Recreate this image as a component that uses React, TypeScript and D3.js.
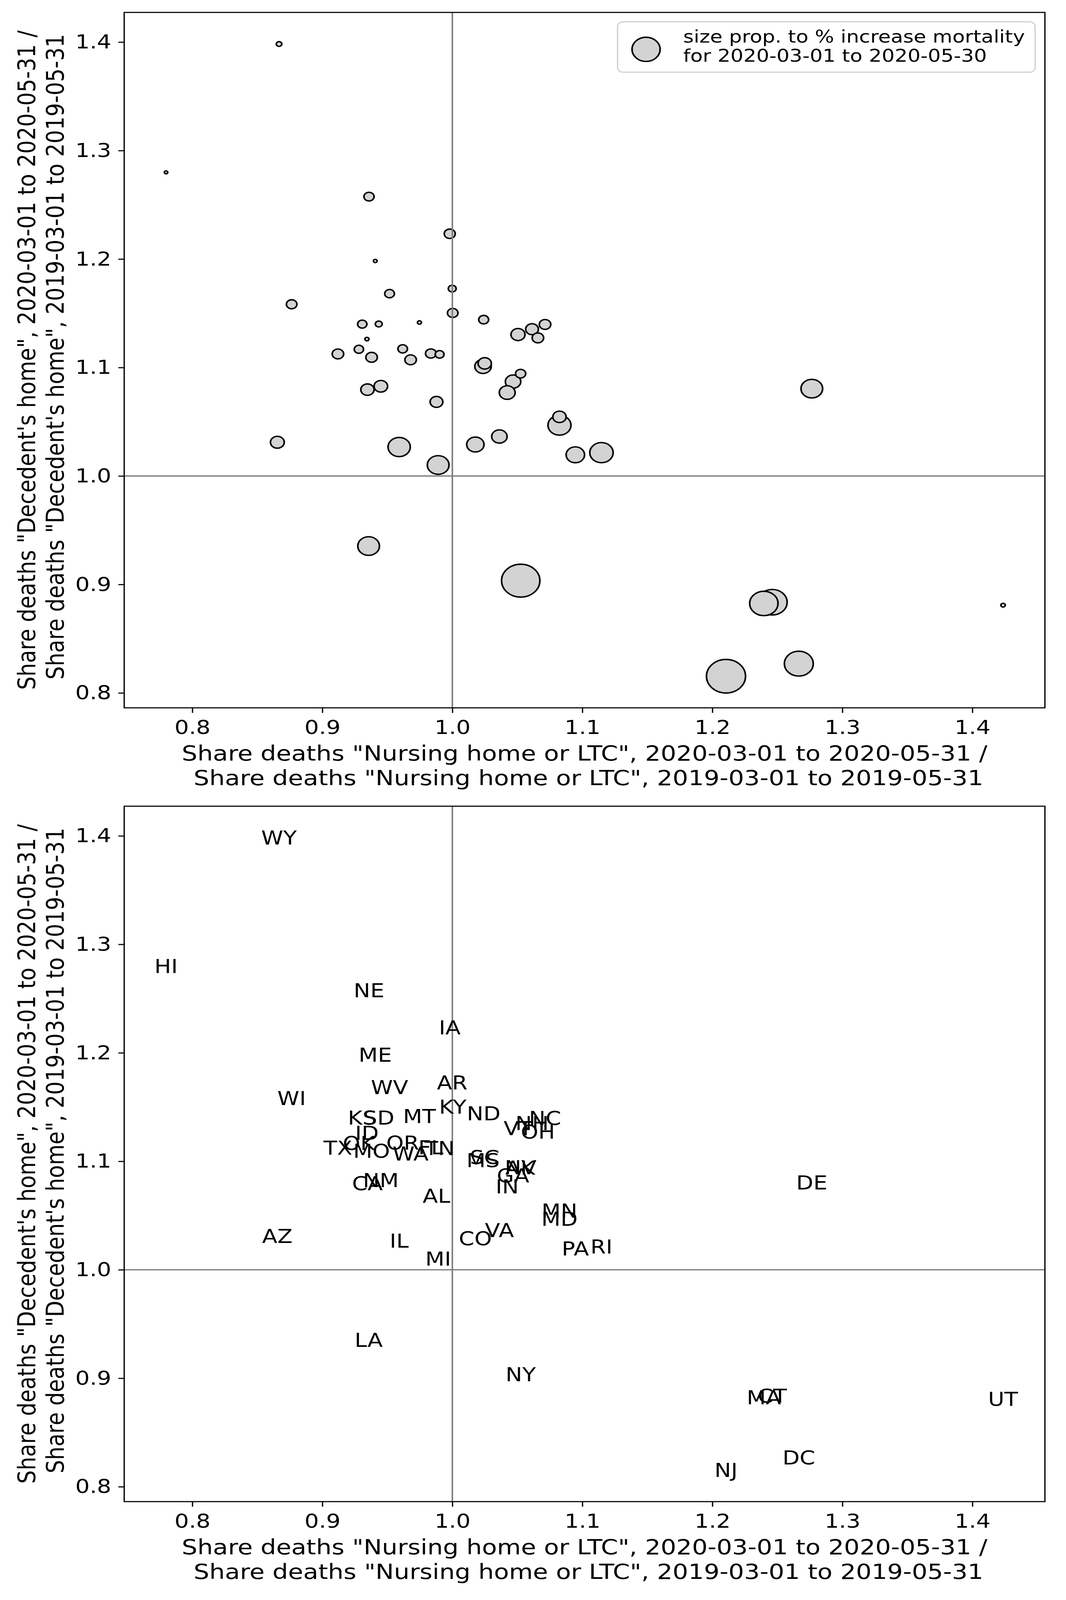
import React, { useEffect, useRef } from 'react';
import * as d3 from 'd3';

// states, sorted by abbreviation (drawing order matters for overlaps)
const states = [
  'AK', 'AL', 'AR', 'AZ', 'CA', 'CO', 'CT', 'DC', 'DE', 'FL', 'GA', 'HI', 'IA',
  'ID', 'IL', 'IN', 'KS', 'KY', 'LA', 'MA', 'MD', 'ME', 'MI', 'MN', 'MO', 'MS',
  'MT', 'NC', 'ND', 'NE', 'NH', 'NJ', 'NM', 'NV', 'NY', 'OH', 'OK', 'OR', 'PA',
  'RI', 'SC', 'SD', 'TN', 'TX', 'UT', 'VA', 'VT', 'WA', 'WI', 'WV', 'WY',
];

// share "Nursing home or LTC" 2020 / 2019
const nursingRatio = [
  1.0522, 0.9878, 0.9999, 0.8654, 0.9347, 1.0177, 1.2461, 1.2665, 1.2765, 0.9835, 1.0467, 0.7798, 0.998,
  0.9343, 0.9591, 1.0422, 0.9307, 1.0003, 0.9356, 1.2396, 1.0824, 0.9407, 0.9891, 1.0824, 0.9379, 1.0236,
  0.9747, 1.0713, 1.0241, 0.9359, 1.0613, 1.2105, 0.945, 1.0525, 1.0526, 1.0658, 0.9281, 0.9618, 1.0946,
  1.1147, 1.0249, 0.9434, 0.9902, 0.912, 1.4236, 1.0362, 1.0505, 0.9679, 0.8764, 0.9517, 0.8667,
];

// share "Decedent's home" 2020 / 2019
const homeRatio = [
  1.094, 1.0683, 1.1727, 1.0311, 1.0796, 1.029, 0.8836, 0.827, 1.0805, 1.1129, 1.087, 1.2799, 1.2233,
  1.1262, 1.0267, 1.0769, 1.14, 1.1503, 0.9354, 0.8825, 1.0468, 1.1982, 1.0101, 1.0545, 1.1094, 1.101,
  1.1415, 1.1397, 1.1441, 1.2575, 1.1353, 0.8154, 1.0827, 1.0943, 0.9035, 1.1273, 1.1168, 1.1172, 1.0195,
  1.0215, 1.1038, 1.1401, 1.1121, 1.1125, 0.8809, 1.0364, 1.1304, 1.1071, 1.1583, 1.1681, 1.3982,
];

// % increase in mortality, 2020-03-01 to 2020-05-30
const mortalityIncrease = [
  3.5, 6.9, 2.6, 8.1, 7.5, 12.8, 37.6, 35.6, 20, 4.9, 10.1, 0.5, 5.1,
  0.7, 21.1, 10.7, 3.7, 4.7, 20, 34.3, 22.6, 0.6, 20.1, 7.5, 5.6, 11.5,
  0.7, 5.6, 4.2, 4.4, 6.9, 65, 7.8, 4.4, 62.5, 5.6, 3.7, 3.9, 14.5,
  23.3, 7.5, 2.0, 3.3, 5.6, 0.8, 10.1, 8.4, 5.6, 4.7, 4.0, 1.3,
];

const xTicks = [0.8, 0.9, 1.0, 1.1, 1.2, 1.3, 1.4];
const yTicks = [0.8, 0.9, 1.0, 1.1, 1.2, 1.3, 1.4];

const xLabelLines = [
  'Share deaths "Nursing home or LTC", 2020-03-01 to 2020-05-31 /',
  ' Share deaths "Nursing home or LTC", 2019-03-01 to 2019-05-31',
];
const yLabelLines = [
  'Share deaths "Decedent\'s home", 2020-03-01 to 2020-05-31 /',
  ' Share deaths "Decedent\'s home", 2019-03-01 to 2019-05-31',
];
const legendLines = ['size prop. to % increase mortality', 'for 2020-03-01 to 2020-05-30'];

const WIDTH = 2729;
const HEIGHT = 4765;
const FONT = "'DejaVu Sans', sans-serif";

const padExtent = (vals: number[]): [number, number] => {
  const [a, b] = d3.extent(vals) as [number, number];
  const m = (b - a) * 0.05;
  return [a - m, b + m];
};

const App: React.FC = () => {
  const chartRef = useRef<SVGSVGElement | null>(null);
  // the browser window may be shorter than the figure; fit the whole figure in it
  const viewH = Math.min(HEIGHT, window.innerHeight || HEIGHT);

  useEffect(() => {
    document.body.style.margin = '0';
    const svg = d3.select(chartRef.current);
    svg.selectAll('*').remove();

    const rows = states.map((s, i) => ({
      state: s,
      x: nursingRatio[i],
      y: homeRatio[i],
      pct: mortalityIncrease[i],
    }));

    const left = 318;
    const right = 2675;
    const panels = [
      { top: 37, bottom: 2108, kind: 'bubbles' },
      { top: 2401, bottom: 4472, kind: 'labels' },
    ];

    const x = d3.scaleLinear().domain(padExtent(nursingRatio)).range([left, right]);
    const r = d3.scaleSqrt().domain([0, 100]).range([0, 62]);

    svg.append('rect').attr('width', WIDTH).attr('height', HEIGHT).attr('fill', 'white');

    panels.forEach(p => {
      const y = d3.scaleLinear().domain(padExtent(homeRatio)).range([p.bottom, p.top]);
      const g = svg.append('g');

      const refLines = () => {
        g.append('line')
          .attr('x1', x(1)).attr('x2', x(1)).attr('y1', p.top).attr('y2', p.bottom)
          .attr('stroke', 'gray').attr('stroke-width', 4);
        g.append('line')
          .attr('x1', left).attr('x2', right).attr('y1', y(1)).attr('y2', y(1))
          .attr('stroke', 'gray').attr('stroke-width', 4);
      };

      if (p.kind === 'labels') {
        refLines();
        g.selectAll('text.state')
          .data(rows)
          .enter()
          .append('text')
          .attr('class', 'state')
          .attr('x', d => x(d.x))
          .attr('y', d => y(d.y))
          .attr('dy', '0.36em')
          .attr('text-anchor', 'middle')
          .attr('font-family', FONT)
          .attr('font-size', 57)
          .attr('fill', 'black')
          .text(d => d.state);
      } else {
        g.selectAll('circle.bubble')
          .data(rows)
          .enter()
          .append('circle')
          .attr('class', 'bubble')
          .attr('cx', d => x(d.x))
          .attr('cy', d => y(d.y))
          .attr('r', d => r(d.pct))
          .attr('fill', 'lightgray')
          .attr('stroke', 'black')
          .attr('stroke-width', 4.2);
        refLines();

        // legend, upper right
        const lg = g.append('g').attr('transform', `translate(${right - 1094},${p.top + 28})`);
        lg.append('rect')
          .attr('width', 1069).attr('height', 150).attr('rx', 14)
          .attr('fill', 'white').attr('fill-opacity', 0.8)
          .attr('stroke', '#cccccc').attr('stroke-width', 3);
        lg.append('circle')
          .attr('cx', 73).attr('cy', 82).attr('r', 36)
          .attr('fill', 'lightgray').attr('stroke', 'black').attr('stroke-width', 4.2);
        lg.selectAll('text')
          .data(legendLines)
          .enter()
          .append('text')
          .attr('x', 168)
          .attr('y', (d, i) => 62 + i * 57)
          .attr('font-family', FONT)
          .attr('font-size', 52)
          .text(d => d);
      }

      // axes
      const xAxis = g.append('g')
        .attr('transform', `translate(0,${p.bottom})`)
        .call(d3.axisBottom(x).tickValues(xTicks).tickFormat(d3.format('.1f')).tickSize(15).tickSizeOuter(0).tickPadding(22));
      const yAxis = g.append('g')
        .attr('transform', `translate(${left},0)`)
        .call(d3.axisLeft(y).tickValues(yTicks).tickFormat(d3.format('.1f')).tickSize(15).tickSizeOuter(0).tickPadding(18));

      [xAxis, yAxis].forEach(a => {
        a.select('.domain').remove();
        a.selectAll('.tick line').attr('stroke', 'black').attr('stroke-width', 3.3);
        a.selectAll('.tick text')
          .attr('fill', 'black')
          .attr('font-family', FONT)
          .attr('font-size', 58);
      });

      g.append('rect')
        .attr('x', left).attr('y', p.top)
        .attr('width', right - left).attr('height', p.bottom - p.top)
        .attr('fill', 'none').attr('stroke', 'black').attr('stroke-width', 3.3);

      // axis labels
      g.selectAll('text.xlabel')
        .data(xLabelLines)
        .enter()
        .append('text')
        .attr('class', 'xlabel')
        .attr('x', (left + right) / 2)
        .attr('y', (d, i) => p.bottom + 157 + i * 73)
        .attr('text-anchor', 'middle')
        .attr('font-family', FONT)
        .attr('font-size', 63)
        .style('white-space', 'pre')
        .text(d => d);

      const midY = (p.top + p.bottom) / 2;
      g.selectAll('text.ylabel')
        .data(yLabelLines)
        .enter()
        .append('text')
        .attr('class', 'ylabel')
        .attr('transform', (d, i) => `translate(${90 + i * 73},${midY}) rotate(-90)`)
        .attr('text-anchor', 'middle')
        .attr('font-family', FONT)
        .attr('font-size', 63)
        .style('white-space', 'pre')
        .text(d => d);
    });
  }, []);

  return (
    <svg
      ref={chartRef}
      width={WIDTH}
      height={viewH}
      viewBox={`0 0 ${WIDTH} ${HEIGHT}`}
      preserveAspectRatio="none"
      style={{ display: 'block', background: 'white' }}
    ></svg>
  );
};

export default App;
